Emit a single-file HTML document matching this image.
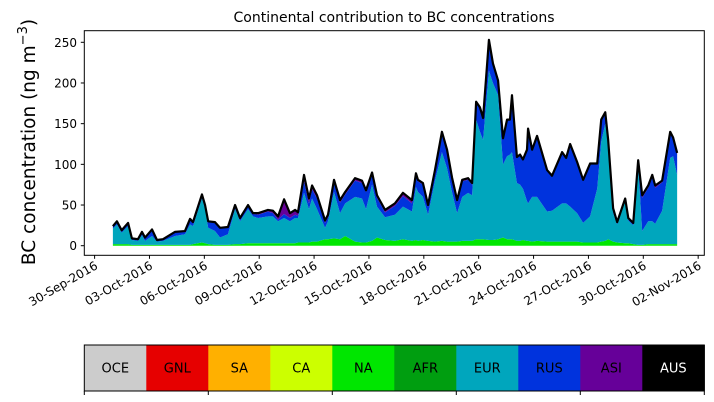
<!DOCTYPE html>
<html><head><meta charset="utf-8"><style>
body{margin:0;background:#fff;}
svg{display:block;font-family:"DejaVu Sans","Liberation Sans",sans-serif;}
</style></head><body>
<svg id="chart" width="714" height="402" viewBox="0 0 714 402">
<text x="394" y="22" font-size="14" text-anchor="middle">Continental contribution to BC concentrations</text>
<text transform="translate(35,142) rotate(-90)" font-size="18.5" text-anchor="middle">BC concentration (ng m<tspan dy="-8" font-size="13">−3</tspan><tspan dy="8">)</tspan></text>
<g id="marks"></g>
<rect x="84.3" y="30.7" width="620" height="224.6" fill="none" stroke="#000" stroke-width="1"/>
<g id="yticks"></g>
<g id="xticks"></g>
<g id="colorbar"></g>
</svg>
<script>
// time in days since 30-Sep-2016 00:00
const times=[1.00,1.22,1.48,1.83,2.04,2.37,2.59,2.76,3.14,3.41,3.74,4.40,4.94,5.22,5.38,5.87,6.04,6.21,6.58,6.86,7.29,7.68,7.95,8.39,8.66,8.94,9.48,9.75,10.03,10.36,10.68,10.96,11.12,11.45,11.72,11.89,12.16,12.60,12.76,13.09,13.42,13.70,14.24,14.62,14.84,15.17,15.44,15.88,16.42,16.86,17.35,17.57,17.68,17.95,18.23,18.61,18.99,19.27,19.54,19.82,20.10,20.42,20.64,20.86,21.07,21.24,21.56,21.78,22.06,22.33,22.55,22.71,22.82,23.09,23.26,23.42,23.64,23.70,23.92,24.19,24.74,25.01,25.56,25.78,26.00,26.38,26.71,27.09,27.48,27.70,27.92,28.08,28.35,28.57,29.01,29.18,29.45,29.72,29.94,30.27,30.49,30.65,31.03,31.47,31.63,31.85];
const totalVals=[24,30,19,28,9,8,17,10,20,7,8,17,18,33,29,63,50,30,29,22,23,50,34,50,40,40,44,43,36,57,40,44,41,87,58,74,62,31,38,81,56,66,83,80,68,90,62,44,52,65,56,89,81,77,50,93,140,118,84,56,81,83,77,177,170,157,253,224,203,132,155,155,185,109,112,106,118,144,118,135,93,86,115,108,125,103,81,101,101,155,164,130,46,29,58,34,28,105,62,74,87,74,80,140,133,114];
const naVals=[2,2,2,2,1,1,1,1,1,1,1,1,1,1,2,4,3,2,1,1,1,2,2,3,3,3,3,3,3,3,3,3,4,4,4,5,5,8,8,9,8,12,5,4,4,6,10,7,6,8,6,7,6,7,6,5,6,5,5,5,6,6,6,8,8,8,7,7,8,10,8,8,8,6,6,7,6,6,5,6,5,5,5,5,5,5,4,4,4,5,6,8,5,4,3,3,2,1,1,2,2,2,2,2,2,2];
const eurVals=[19,24,14,22,6,5,12,5,11,4,5,11,13,25,22,54,42,20,17,9,13,43,28,42,33,31,33,33,27,31,27,31,30,61,41,53,40,14,22,57,32,40,55,54,41,69,38,28,32,40,36,65,60,53,32,75,109,90,61,35,54,59,56,147,132,122,208,193,177,90,102,104,107,71,69,63,49,46,55,54,37,38,47,47,43,35,24,32,66,123,144,117,35,22,52,28,23,97,17,28,28,25,41,106,108,85];
const asiVals=[0,0,0,0,0,0,0,0,0,0,0,0,0,0,0,0,0,0,0,0,0,1,1,1,1,2,2,3,4,18,6,6,4,8,6,5,4,3,3,3,3,3,3,3,2,3,3,3,3,4,4,2,2,2,2,2,2,2,2,2,2,2,2,1,1,1,1,1,1,1,1,1,1,1,1,1,1,1,1,1,1,1,1,1,1,1,1,1,1,1,1,1,1,1,1,1,1,1,3,3,3,3,2,1,1,1];
const yTicks=[0,50,100,150,200,250];
const xTickDays=[0,3,6,9,12,15,18,21,24,27,30,33];
const xTickLabels=["30-Sep-2016","03-Oct-2016","06-Oct-2016","09-Oct-2016","12-Oct-2016","15-Oct-2016","18-Oct-2016","21-Oct-2016","24-Oct-2016","27-Oct-2016","30-Oct-2016","02-Nov-2016"];
const regions=["OCE","GNL","SA","CA","NA","AFR","EUR","RUS","ASI","AUS"];
const regionColors=["#cccccc","#e60000","#ffb000","#ccff00","#00e600","#009e10","#00a6bd","#0033dd","#660099","#000000"];

const NS="http://www.w3.org/2000/svg";
const X=d=>94.6+18.29*d;
const Y=v=>245.7-0.8136*v;
const mk=(t,a)=>{const e=document.createElementNS(NS,t);for(const k in a)e.setAttribute(k,a[k]);return e;};
const rusVals=totalVals.map((t,i)=>Math.max(0,t-naVals[i]-eurVals[i]-asiVals[i]));
const series=[["NA",naVals,regionColors[4]],["EUR",eurVals,regionColors[6]],["RUS",rusVals,regionColors[7]],["ASI",asiVals,regionColors[8]]];
const marks=document.getElementById('marks');
let base=times.map(()=>0);
series.forEach(([name,vals,col])=>{
  const top=base.map((b,i)=>b+vals[i]);
  let d="M"+times.map((t,i)=>X(t).toFixed(2)+","+Y(top[i]).toFixed(2)).join("L");
  for(let i=times.length-1;i>=0;i--)d+="L"+X(times[i]).toFixed(2)+","+Y(base[i]).toFixed(2);
  const p=mk('path',{d:d+"Z",fill:col});
  
  
  marks.appendChild(p);
  base=top;
});
const line=mk('path',{d:"M"+times.map((t,i)=>X(t).toFixed(2)+","+Y(totalVals[i]).toFixed(2)).join("L"),fill:"none",stroke:"#000","stroke-width":2.2,"stroke-linejoin":"round"});


marks.appendChild(line);

const yt=document.getElementById('yticks');
yTicks.forEach(v=>{
  const g=mk('g',{});
  
  
  g.appendChild(mk('line',{x1:80.8,x2:84.3,y1:Y(v),y2:Y(v),stroke:"#000"}));
  const t=mk('text',{x:77,y:Y(v)+4.5,"font-size":12,"text-anchor":"end"});t.textContent=v;g.appendChild(t);
  yt.appendChild(g);
});
const xt=document.getElementById('xticks');
xTickDays.forEach((d,i)=>{
  const g=mk('g',{});
  
  
  g.appendChild(mk('line',{x1:X(d),x2:X(d),y1:255.3,y2:258.8,stroke:"#000"}));
  const t=mk('text',{transform:`translate(${X(d)+4},${268}) rotate(-30)`,"font-size":12,"text-anchor":"end"});t.textContent=xTickLabels[i];g.appendChild(t);
  xt.appendChild(g);
});
const cb=document.getElementById('colorbar');
const cw=62;
regions.forEach((r,i)=>{
  const g=mk('g',{});
  
  
  g.appendChild(mk('rect',{x:84.3+i*cw,y:345,width:cw+0.5,height:46,fill:regionColors[i]}));
  const t=mk('text',{x:84.3+i*cw+cw/2,y:372.5,"font-size":13,"text-anchor":"middle",fill:i===9?"#fff":"#000"});t.textContent=r;g.appendChild(t);
  cb.appendChild(g);
});
cb.appendChild(mk('rect',{x:84.3,y:345,width:620,height:46,fill:"none",stroke:"#000"}));
[0,1,2,3,4,5].forEach(k=>cb.appendChild(mk('line',{x1:84.3+k*124,x2:84.3+k*124,y1:391,y2:395,stroke:"#000"})));
</script>
</body></html>
